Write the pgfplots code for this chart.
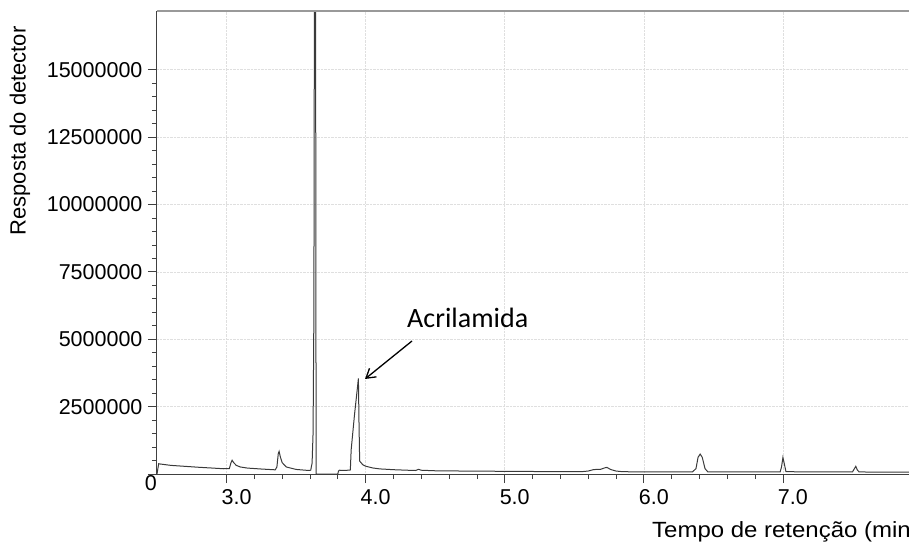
\documentclass[border=0pt]{standalone}
\usepackage{fontspec}
\setmainfont{Liberation Sans}
\newfontfamily\calibri{Carlito}
\usepackage{pgfplots}
\pgfplotsset{compat=1.18}
\usetikzlibrary{arrows.meta}
\definecolor{axisc}{HTML}{404040}
\definecolor{linec}{HTML}{3A3A3A}
\begin{document}
\begin{tikzpicture}[x=1pt,y=1pt]
\begin{axis}[
  at={(0pt,0pt)}, anchor=south west,
  scale only axis, width=765pt, height=463pt,
  xmin=2.5, xmax=8.0, ymin=0, ymax=17180000,
  axis x line*=bottom, axis y line*=left,
  axis line style={axisc, line width=1pt},
  xtick={3,4,5,6,7}, xticklabels={3.0,4.0,5.0,6.0,7.0},
  minor x tick num=4,
  ytick={0,2500000,5000000,7500000,10000000,12500000,15000000},
  yticklabels={,2500000,5000000,7500000,10000000,12500000,15000000},
  minor y tick num=4,
  scaled y ticks=false,
  tick align=outside, major tick length=9pt, minor tick length=5pt,
  tick style={axisc, line width=0.8pt},
  grid=major, major grid style={gray!25, densely dotted, line width=0.6pt},
  ticklabel style={font=\fontsize{21.5}{24}\selectfont, text=black},
  xticklabel style={xshift=10pt, yshift=-3pt},
  yticklabel style={xshift=-2pt},
  clip=true,
]
\addplot[linec, line width=1pt] coordinates {
(2.500,0)(2.512,380000)(2.525,370000)(2.60,320000)(2.70,285000)(2.80,250000)(2.90,220000)(2.98,195000)
(3.02,200000)(3.032,420000)(3.040,510000)(3.050,430000)(3.07,320000)(3.10,260000)(3.15,220000)(3.25,185000)(3.35,155000)
(3.362,260000)(3.372,760000)(3.378,840000)(3.386,650000)(3.40,420000)(3.43,260000)(3.50,170000)(3.58,135000)(3.605,140000)
(3.615,400000)(3.622,1500000)(3.628,6000000)(3.632,19000000)(3.640,19000000)(3.644,0)
(3.80,0)(3.805,110000)(3.812,140000)(3.86,135000)(3.890,150000)(3.896,900000)(3.92,2200000)(3.942,3250000)(3.948,3550000)
(3.952,2000000)(3.957,480000)(3.98,340000)(4.00,290000)(4.05,225000)(4.10,190000)(4.20,160000)(4.30,140000)(4.36,130000)
(4.38,175000)(4.40,140000)(4.50,120000)(4.70,110000)(5.00,100000)(5.30,90000)(5.55,85000)(5.60,110000)(5.64,165000)
(5.69,175000)(5.72,230000)(5.735,245000)(5.76,170000)(5.80,110000)(5.85,85000)(6.00,80000)(6.35,80000)(6.375,200000)
(6.39,620000)(6.405,740000)(6.42,620000)(6.44,200000)(6.46,80000)(6.98,75000)(6.99,260000)(7.00,615000)(7.01,380000)
(7.022,85000)(7.50,75000)(7.513,190000)(7.524,285000)(7.535,150000)(7.548,75000)(8.00,70000)
};
\end{axis}
\draw[gray!80, line width=1.2pt] (0pt,463pt) -- (765pt,463pt);
\node[anchor=north east, inner sep=0pt, font=\fontsize{21.5}{24}\selectfont] at (0pt,-1pt) {0};
\node[rotate=90, anchor=center, font=\fontsize{22}{26}\selectfont] at (-137pt,343pt) {Resposta do detector};
\node[anchor=base east, inner sep=0pt, xscale=1.09, font=\fontsize{22}{26}\selectfont] at (762pt,-63pt) {Tempo de retenção (min)};
\node[anchor=base west, inner sep=0pt, font=\calibri\fontsize{28}{32}\selectfont] at (250pt,147pt) {Acrilamida};
\draw[black, line width=1.3pt, -{Straight Barb[length=9pt, width=11pt, line width=1.3pt]}] (255pt,133pt) -- (208pt,95pt);
\pgfresetboundingbox
\path[use as bounding box] (-157pt,-68pt) rectangle (752pt,474pt);
\end{tikzpicture}
\end{document}
